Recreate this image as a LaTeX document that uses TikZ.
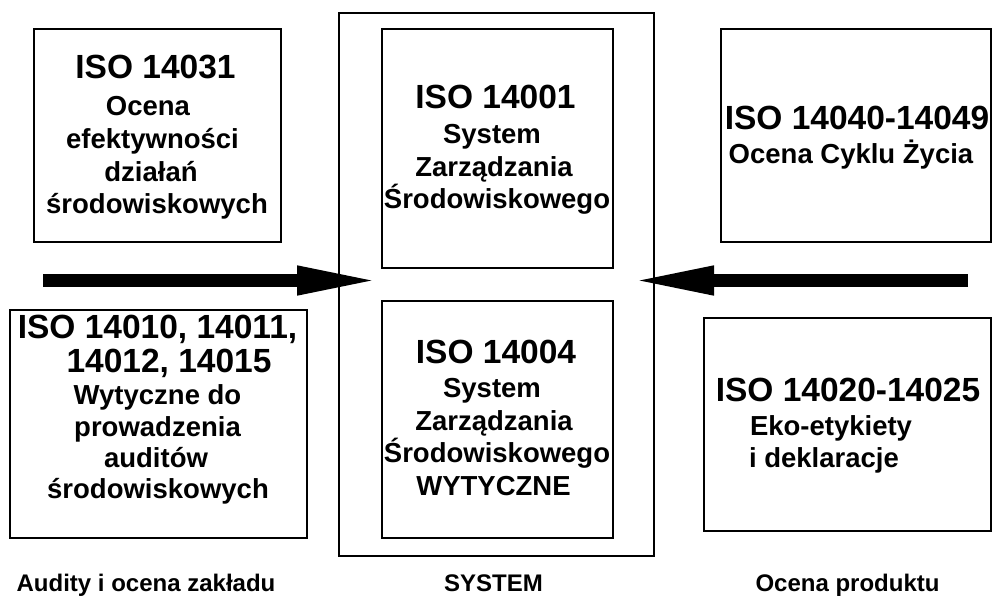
\documentclass[tikz,border=0pt]{standalone}
\usepackage{fontspec}
\setmainfont{Liberation Sans}
\usetikzlibrary{arrows.meta}

\begin{document}
\begin{tikzpicture}[x=1pt,y=-1pt,
  stdbox/.style={draw=black,line width=1.7pt,inner sep=0pt,outer sep=0pt},
  sysframe/.style={draw=black,line width=1.3pt,inner sep=0pt,outer sep=0pt},
  ttl/.style={anchor=base,inner sep=0pt,font=\fontsize{33.5}{36}\selectfont\bfseries},
  sub/.style={anchor=base,inner sep=0pt,font=\fontsize{27.5}{32}\selectfont\bfseries},
  captext/.style={anchor=base,inner sep=0pt,font=\fontsize{24}{28}\selectfont\bfseries},
  bigarrow/.style={line width=13pt,-{Triangle[length=85pt,width=26pt]}}]

\useasboundingbox (0,0) rectangle (992,597);

% outer SYSTEM frame
\draw[sysframe] (339,13) rectangle (654,556);

% boxes
\draw[stdbox] (34,29) rectangle (281,242);
\draw[stdbox] (382,29) rectangle (613,268);
\draw[stdbox] (721,29) rectangle (991,242);
\draw[stdbox] (10,310) rectangle (307,538);
\draw[stdbox] (382,301) rectangle (613,538);
\draw[stdbox] (704,318) rectangle (991,531);

% ISO 14031
\node[ttl] (a0) at (155.5,78) {ISO 14031};
\node[sub] (a1) at (148,115) {Ocena};
\node[sub] (a2) at (152.5,148) {efektywności};
\node[sub] (a3) at (151,181) {działań};
\node[sub] (a4) at (157,213) {środowiskowych};

% ISO 14001
\node[ttl] (b0) at (495.5,108) {ISO 14001};
\node[sub] (b1) at (492,143) {System};
\node[sub] (b2) at (494,176) {Zarządzania};
\node[sub] (b3) at (497,208) {Środowiskowego};

% ISO 14040-14049
\node[ttl] (c0) at (857,129) {ISO 14040-14049};
\node[sub] (c1) at (851,163) {Ocena Cyklu Życia};

% ISO 14010 ...
\node[ttl] (d0) at (157.5,338) {ISO 14010, 14011,};
\node[ttl] (d1) at (169,372) {14012, 14015};
\node[sub] (d2) at (157.5,404) {Wytyczne do};
\node[sub] (d3) at (157.5,436) {prowadzenia};
\node[sub] (d4) at (156,467) {auditów};
\node[sub] (d5) at (158,498) {środowiskowych};

% ISO 14004
\node[ttl] (e0) at (496,363) {ISO 14004};
\node[sub] (e1) at (492,397) {System};
\node[sub] (e2) at (494,430) {Zarządzania};
\node[sub] (e3) at (497,462) {Środowiskowego};
\node[sub] (e4) at (493.5,495) {WYTYCZNE};

% ISO 14020-14025
\node[ttl] (f0) at (848,401) {ISO 14020-14025};
\node[sub] (f1) at (831,435) {Eko-etykiety};
\node[sub] (f2) at (824,467) {i deklaracje};

% column captions
\node[captext] (g0) at (146,591) {Audity i ocena zakładu};
\node[captext] (g1) at (493.5,591) {SYSTEM};
\node[captext] (g2) at (847.5,591) {Ocena produktu};

% thick arrows pointing into the system
\coordinate (la) at (43,280.5);
\coordinate (lb) at (382,280.5);
\coordinate (ra) at (968,280.5);
\coordinate (rb) at (629,280.5);
\draw[bigarrow] (la) -- (lb);
\draw[bigarrow] (ra) -- (rb);
\end{tikzpicture}
\end{document}
